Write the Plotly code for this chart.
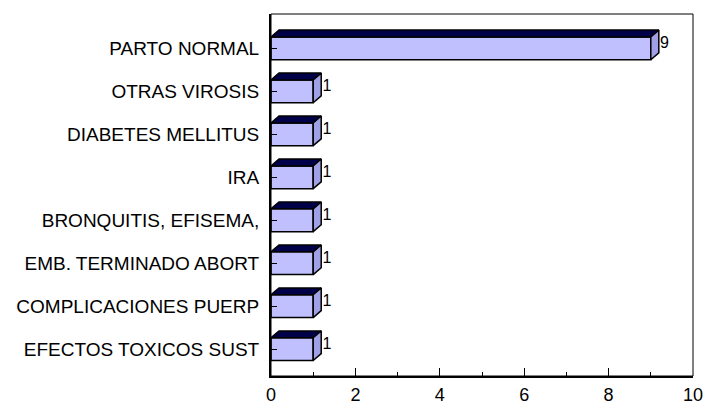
import plotly.graph_objects as go

categories = [
    "PARTO NORMAL",
    "OTRAS VIROSIS",
    "DIABETES MELLITUS",
    "IRA",
    "BRONQUITIS, EFISEMA,",
    "EMB. TERMINADO ABORT",
    "COMPLICACIONES PUERP",
    "EFECTOS TOXICOS SUST",
]
values = [9, 1, 1, 1, 1, 1, 1, 1]
x_ticks = [0, 2, 4, 6, 8, 10]

FRONT = "#C0C0FF"
SIDE = "#A0A0E6"
TOP = "#000048"
EDGE = "#000000"

n = len(categories)
ypos = [n - 1 - i for i in range(n)]  # top category highest
half = 0.265   # half bar thickness (category units)
dx = 0.19      # depth offset along value axis
dy = 0.16      # depth offset along category axis

fig = go.Figure()

# front faces
fig.add_trace(go.Bar(
    x=values, y=ypos, orientation="h", width=2 * half,
    marker=dict(color=FRONT, line=dict(color=EDGE, width=1.5)),
    hoverinfo="skip", showlegend=False,
))

# top faces
tx, ty = [], []
for v, y in zip(values, ypos):
    tx += [0, v, v + dx, dx, 0, None]
    ty += [y + half, y + half, y + half + dy, y + half + dy, y + half, None]
fig.add_trace(go.Scatter(
    x=tx, y=ty, mode="lines", fill="toself", fillcolor=TOP,
    line=dict(color=EDGE, width=1.5), hoverinfo="skip", showlegend=False,
))

# side faces
sx, sy = [], []
for v, y in zip(values, ypos):
    sx += [v, v + dx, v + dx, v, v, None]
    sy += [y - half, y - half + dy, y + half + dy, y + half, y - half, None]
fig.add_trace(go.Scatter(
    x=sx, y=sy, mode="lines", fill="toself", fillcolor=SIDE,
    line=dict(color=EDGE, width=1.5), hoverinfo="skip", showlegend=False,
))

# value labels
fig.add_trace(go.Scatter(
    x=[v + dx + 0.03 for v in values], y=[y + dy * 0.6 for y in ypos],
    mode="text", text=[str(v) for v in values], textposition="middle right",
    textfont=dict(family="Liberation Sans, Arial", size=16, color="#000000"),
    hoverinfo="skip", showlegend=False,
))

fig.update_layout(
    width=705, height=405,
    margin=dict(l=271, r=12, t=14, b=29),
    paper_bgcolor="white", plot_bgcolor="white",
    font=dict(family="Liberation Sans, Arial", color="#000000"),
    xaxis=dict(
        range=[0, 10], tickvals=x_ticks, ticktext=[str(t) for t in x_ticks],
        showgrid=False, zeroline=False, showline=True, linecolor="#000000", linewidth=2,
        ticks="inside", ticklen=8, tickwidth=1, tickcolor="#000000",
        minor=dict(ticks="inside", ticklen=4, dtick=1, tick0=0, tickcolor="#000000", showgrid=False),
        tickfont=dict(size=18), ticklabelstandoff=1, automargin=False,
    ),
    yaxis=dict(
        range=[-0.625, 7.8], tickvals=ypos, ticktext=categories,
        showgrid=False, zeroline=False, showline=True, linecolor="#000000", linewidth=2,
        ticks="inside", ticklen=6, tickwidth=1, tickcolor="#000000",
        tickfont=dict(size=19), ticklabelstandoff=6, automargin=False,
    ),
    shapes=[dict(type="rect", xref="paper", yref="paper", x0=0, x1=1, y0=0, y1=1,
                 line=dict(color="#000000", width=1), layer="above")],
)

fig.write_html("out.html", config={"displayModeBar": False},
               post_script="document.body.style.margin='0px';")
